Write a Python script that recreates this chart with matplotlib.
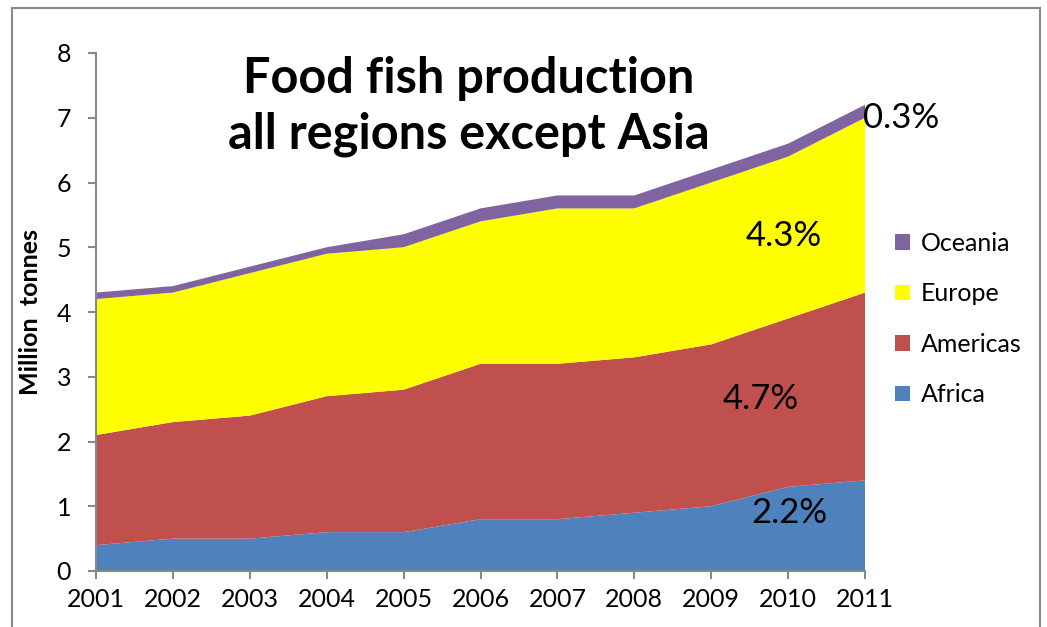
import numpy as np
import matplotlib.pyplot as plt
from matplotlib.patches import Rectangle

plt.rcParams['font.family'] = ['Lato', 'DejaVu Sans']

years = [2001, 2002, 2003, 2004, 2005, 2006, 2007, 2008, 2009, 2010, 2011]
africa = [0.4, 0.5, 0.5, 0.6, 0.6, 0.8, 0.8, 0.9, 1.0, 1.3, 1.4]
americas = [1.7, 1.8, 1.9, 2.1, 2.2, 2.4, 2.4, 2.4, 2.5, 2.6, 2.9]
europe = [2.1, 2.0, 2.2, 2.2, 2.2, 2.2, 2.4, 2.3, 2.5, 2.5, 2.7]
oceania = [0.1, 0.1, 0.1, 0.1, 0.2, 0.2, 0.2, 0.2, 0.2, 0.2, 0.2]

names = ["Africa", "Americas", "Europe", "Oceania"]
colors = ["#4F81BD", "#C0504D", "#FFFF00", "#8064A2"]
growth = ["2.2%", "4.7%", "4.3%", "0.3%"]

fig = plt.figure(figsize=(10.47, 6.27), dpi=100)
ax = fig.add_axes([96 / 1047, 1 - 571 / 627, (865 - 96) / 1047, (571 - 53) / 627])

polys = ax.stackplot(years, africa, americas, europe, oceania,
                     colors=colors, labels=names, linewidth=0)

ax.set_xlim(2001, 2011)
ax.set_ylim(0, 8)
ax.set_xticks(years)
ax.set_yticks(range(9))
ax.tick_params(axis='both', labelsize=18, color='#888888', length=6, width=1.5)
ax.tick_params(axis='x', pad=6)
ax.tick_params(axis='y', pad=12)
for s in ['top', 'right']:
    ax.spines[s].set_visible(False)
for s in ['left', 'bottom']:
    ax.spines[s].set_color('#888888')
    ax.spines[s].set_linewidth(1.5)

ax.set_ylabel("Million  tonnes", fontsize=18, fontweight='bold', labelpad=10)

ax.text(2005.85, 7.6, "Food fish production", ha='center', va='center',
        fontsize=35, fontweight='bold')
ax.text(2005.85, 6.75, "all regions except Asia", ha='center', va='center',
        fontsize=35, fontweight='bold')

# growth labels
ax.text(2010.02, 0.9, growth[0], ha='center', va='center', fontsize=25)
ax.text(2009.65, 2.65, growth[1], ha='center', va='center', fontsize=25)
ax.text(2009.95, 5.17, growth[2], ha='center', va='center', fontsize=25)
ax.text(2010.97, 7.0, growth[3], ha='left', va='center', fontsize=25)

handles, labels = ax.get_legend_handles_labels()
fig.legend(handles[::-1], labels[::-1], loc='center left',
           bbox_to_anchor=(872 / 1047, 1 - 319 / 627), frameon=False,
           fontsize=18, handlelength=0.6, handleheight=0.6,
           labelspacing=1.1, handletextpad=0.45)

fig.patches.append(Rectangle((12 / 1047, -0.05), (1040 - 12) / 1047, 1 - 8 / 627 + 0.05,
                             transform=fig.transFigure, fill=False,
                             edgecolor='#888888', linewidth=1.5))

fig.savefig("out.png", dpi=100)
